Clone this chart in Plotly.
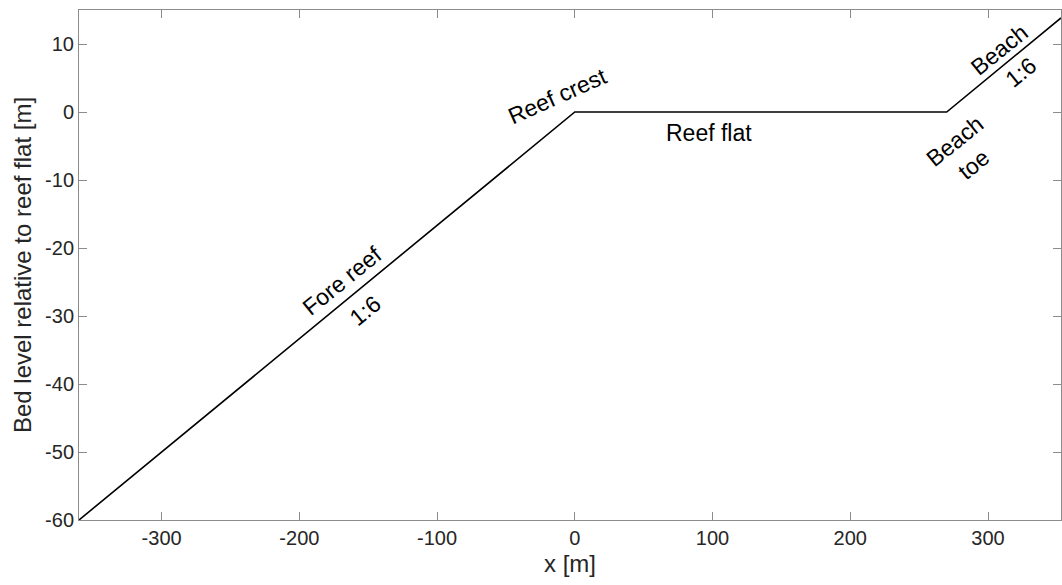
import plotly.graph_objects as go

profile_x = [-360, 0, 270, 353]
profile_y = [-60, 0, 0, 13.83]

label_text = ["Fore reef", "1:6", "Reef crest", "Reef flat", "Beach", "1:6", "Beach<br>toe"]
label_x = [-169.4, -152.7, -12.6, 97.7, 308.1, 324.1, 282.7]
label_y = [-24.8, -29.2, 2.3, -3.13, 9.07, 5.84, -6.07]
label_angle = [-39, -39, -24, 0, -39, -39, -39]

x_ticks = [-300, -200, -100, 0, 100, 200, 300]
x_ticktext = ["-300", "-200", "-100", "0", "100", "200", "300"]
y_ticks = [-60, -50, -40, -30, -20, -10, 0, 10]
y_ticktext = ["-60", "-50", "-40", "-30", "-20", "-10", "0", "10"]

FONT = "Liberation Sans, Arial, sans-serif"

fig = go.Figure()
fig.add_trace(go.Scatter(x=profile_x, y=profile_y, mode="lines",
                         line=dict(color="black", width=1.6), showlegend=False,
                         cliponaxis=True))

for t, x, y, a in zip(label_text, label_x, label_y, label_angle):
    fig.add_annotation(x=x, y=y, xref="x", yref="y", text=t, showarrow=False,
                       textangle=a, font=dict(family=FONT, size=23, color="black"))

axis_common = dict(showgrid=False, zeroline=False, showline=True, mirror="ticks",
                   linecolor="#8c8c8c", linewidth=1, ticks="inside", ticklen=8,
                   tickcolor="#8c8c8c", tickfont=dict(family=FONT, size=20, color="#262626"),
                   title_font=dict(family=FONT, size=24, color="#262626"))

fig.update_xaxes(range=[-360, 353], tickvals=x_ticks, ticktext=x_ticktext,
                 title_text="x [m]", title_standoff=7, **axis_common)
fig.update_yaxes(range=[-60, 15], tickvals=y_ticks, ticktext=y_ticktext,
                 title_text="Bed level relative to reef flat [m]",
                 title_standoff=6, **axis_common)

fig.update_layout(width=1062, height=585, margin=dict(l=79, r=1, t=10, b=65),
                  paper_bgcolor="white", plot_bgcolor="white")

fig.write_html("out.html")
